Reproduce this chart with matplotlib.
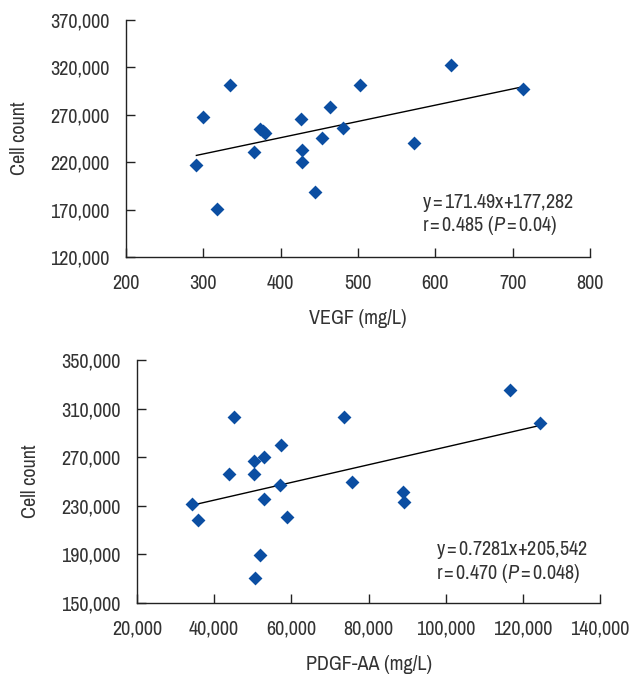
import matplotlib
matplotlib.use('Agg')
import matplotlib.pyplot as plt
from matplotlib.ticker import FuncFormatter

plt.rcParams['font.family'] = ['Archivo Narrow', 'DejaVu Sans']
plt.rcParams['mathtext.fontset'] = 'custom'
plt.rcParams['mathtext.it'] = 'Archivo Narrow:italic'
plt.rcParams['mathtext.rm'] = 'Archivo Narrow'

# panel 1: VEGF vs cell count
vegf = [291, 299, 318, 335, 365, 373, 377, 380, 426, 427, 428, 444, 453, 464, 481, 503, 572, 620, 713]
cells_vegf = [216800, 267200, 171000, 301300, 230900, 255200, 253100, 250300, 265100, 232700,
              220000, 188700, 245700, 278100, 255600, 301700, 240400, 322500, 296800]
fit_vegf = (171.49, 177282)
txt_vegf = [r'y$\,$=$\,$171.49x+177,282', r'r$\,$=$\,$0.485 ($P\,$=$\,$0.04)']

# panel 2: PDGF-AA vs cell count
pdgf = [34270, 35730, 43960, 45100, 50200, 50300, 50600, 51900, 52900, 53000, 57000, 57300,
        58900, 73650, 75700, 88960, 89170, 116700, 124500]
cells_pdgf = [231600, 218500, 256000, 302900, 266800, 256300, 170800, 189500, 236000, 269900,
              247300, 279900, 220700, 303400, 250000, 241000, 233300, 325200, 298400]
fit_pdgf = (0.7281, 205542)
txt_pdgf = [r'y$\,$=$\,$0.7281x+205,542', r'r$\,$=$\,$0.470 ($P\,$=$\,$0.048)']

blue = '#0b4ea2'
fs = 14.5
comma = FuncFormatter(lambda v, p: f'{int(v):,}')

fig = plt.figure(figsize=(6.31, 6.78), dpi=100)

def panel(rect, xs, ys, fit, txt, xlim, xticks, ylim, yticks, xlabel, txtpos, ylpad):
    ax = fig.add_axes(rect)
    ax.scatter(xs, ys, marker='D', s=50, color=blue, zorder=3, linewidths=0)
    x0, x1 = min(xs), max(xs)
    ax.plot([x0, x1], [fit[0] * x0 + fit[1], fit[0] * x1 + fit[1]], color='black', lw=1.0, zorder=2)
    ax.set_xlim(xlim)
    ax.set_ylim(ylim)
    ax.set_xticks(xticks)
    ax.set_yticks(yticks)
    ax.xaxis.set_major_formatter(comma)
    ax.yaxis.set_major_formatter(comma)
    for s in ['top', 'right']:
        ax.spines[s].set_visible(False)
    for s in ['left', 'bottom']:
        ax.spines[s].set_linewidth(1.0)
        ax.spines[s].set_color('#222222')
    ax.tick_params(direction='in', length=6.5, width=1.0, color='#222222', labelsize=fs,
                   labelcolor='#333333', pad=12)
    ax.set_xlabel(xlabel, fontsize=fs, color='#333333', labelpad=12)
    ax.set_ylabel('Cell count', fontsize=fs, color='#333333', labelpad=ylpad)
    ax.text(txtpos[0], txtpos[1], txt[0], transform=ax.transAxes, fontsize=fs,
            color='#333333', ha='left', va='center')
    ax.text(txtpos[0], txtpos[2], txt[1], transform=ax.transAxes, fontsize=fs,
            color='#333333', ha='left', va='center')
    return ax

panel([0.1997, 0.6209, 0.7353, 0.3496], vegf, cells_vegf, fit_vegf, txt_vegf,
      (200, 800), [200, 300, 400, 500, 600, 700, 800],
      (120000, 370000), [120000, 170000, 220000, 270000, 320000, 370000],
      'VEGF (mg/L)', (0.638, 0.228, 0.131), 15)

panel([0.2171, 0.1106, 0.7338, 0.3584], pdgf, cells_pdgf, fit_pdgf, txt_pdgf,
      (20000, 140000), [20000, 40000, 60000, 80000, 100000, 120000, 140000],
      (150000, 350000), [150000, 190000, 230000, 270000, 310000, 350000],
      'PDGF-AA (mg/L)', (0.645, 0.218, 0.123), 15)

fig.savefig('out.png', dpi=100)
